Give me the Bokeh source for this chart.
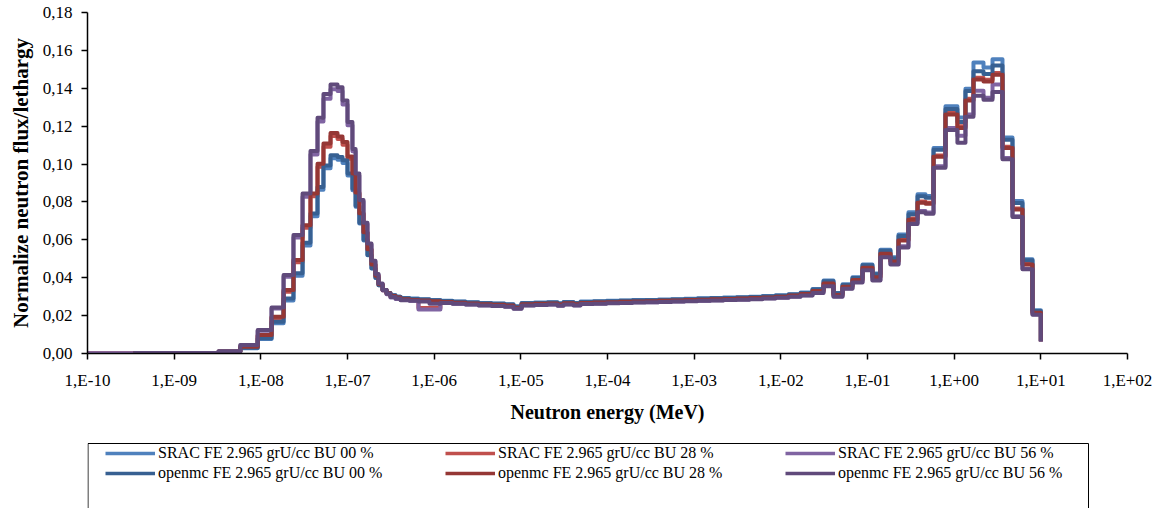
import math
from bokeh.plotting import figure
from bokeh.layouts import column
from bokeh.models import (Range1d, FixedTicker, CustomJSTickFormatter, Legend,
                          LegendItem, BoxAnnotation)
from bokeh.embed import file_html
from bokeh.resources import INLINE

NaN = float("nan")

# group boundaries (MeV)
energy_edges_mev = [
    1.0e-10, 3.4e-10, 3.25e-9, 5.8e-9, 9.2e-9, 1.33e-8, 1.83e-8, 2.38e-8, 3.03e-8, 3.74e-8,
    4.51e-8, 5.28e-8, 6.37e-8, 7.67e-8, 8.76e-8, 1.0e-7, 1.14e-7, 1.24e-7, 1.37e-7, 1.53e-7,
    1.70e-7, 1.89e-7, 2.10e-7, 2.28e-7, 2.54e-7, 2.82e-7, 3.13e-7, 3.58e-7, 4.09e-7,
    5.19e-7, 6.59e-7, 8.83e-7, 1.18e-6, 1.63e-6, 2.30e-6, 3.25e-6, 4.59e-6, 6.48e-6, 8.23e-6,
    1.02e-5, 1.44e-5, 2.03e-5, 2.65e-5, 3.11e-5, 4.05e-5, 4.88e-5, 6.89e-5, 9.74e-5, 1.38e-4,
    1.94e-4, 2.74e-4, 3.88e-4, 5.48e-4, 7.74e-4, 1.09e-3, 1.54e-3, 2.18e-3, 3.08e-3, 4.35e-3,
    6.14e-3, 8.68e-3, 1.23e-2, 1.69e-2, 2.32e-2, 3.11e-2,
    4.05e-2, 5.15e-2, 6.71e-2, 8.76e-2, 1.14e-1, 1.41e-1, 1.84e-1, 2.28e-1, 2.97e-1, 3.78e-1,
    4.67e-1, 5.78e-1, 7.94e-1, 1.09, 1.35, 1.67, 2.18, 2.77, 3.61, 4.71, 6.14, 8.01, 10.0,
]

srac_bu00 = [
    0.0001, 0.0002, 0.0008, 0.0028, 0.0076, 0.0160, 0.0280, 0.0410, 0.0570, 0.0724,
    0.0864, 0.0978, 0.1030, 0.1023, 0.1006, 0.0940, 0.0862, 0.0774, 0.0686, 0.0597,
    0.0518, 0.0449, 0.0399, 0.0360, 0.0335, 0.0320, 0.0308, 0.0300,
    0.0293, 0.0290, 0.0287, 0.0283, 0.0279, 0.0275, 0.0271, 0.0267, 0.0264, 0.0260,
    0.0249, 0.0267, 0.0269, 0.0271, 0.0265, 0.0272, 0.0267, 0.0274, 0.0276, 0.0278,
    0.0280, 0.0282, 0.0283, 0.0285, 0.0287, 0.0289, 0.0291, 0.0293, 0.0295, 0.0297,
    0.0300, 0.0303, 0.0307, 0.0313, 0.0322, 0.0340,
    0.0385, 0.0320, 0.0365, 0.0402, 0.0470, 0.0422, 0.0548, 0.0508, 0.0628, 0.0745,
    0.0840, 0.0832, 0.1085, 0.1305, 0.1246, 0.1398, 0.1536, 0.1510, 0.1553, 0.1140,
    0.0805, 0.0498, 0.0228,
]
srac_bu28 = [
    0.0001, 0.0002, 0.0009, 0.0034, 0.0093, 0.0188, 0.0326, 0.0482, 0.0664, 0.0830,
    0.0986, 0.1092, 0.1148, 0.1132, 0.1102, 0.1028, 0.0941, 0.0843, 0.0735, 0.0636,
    0.0547, 0.0468, 0.0408, 0.0364, 0.0334, 0.0317, 0.0302, 0.0294,
    0.0287, 0.0284, 0.0240, 0.0240, 0.0273, 0.0269, 0.0265, 0.0261, 0.0258, 0.0254,
    0.0243, 0.0261, 0.0263, 0.0265, 0.0259, 0.0266, 0.0261, 0.0268, 0.0270, 0.0272,
    0.0274, 0.0276, 0.0277, 0.0279, 0.0281, 0.0283, 0.0285, 0.0287, 0.0289, 0.0291,
    0.0294, 0.0297, 0.0301, 0.0307, 0.0316, 0.0333,
    0.0372, 0.0311, 0.0356, 0.0391, 0.0456, 0.0406, 0.0530, 0.0490, 0.0602, 0.0712,
    0.0803, 0.0796, 0.1045, 0.1272, 0.1200, 0.1345, 0.1455, 0.1445, 0.1480, 0.1092,
    0.0765, 0.0473, 0.0217,
]
srac_bu56 = [
    0.0001, 0.0002, 0.0011, 0.0043, 0.0120, 0.0238, 0.0405, 0.0612, 0.0828, 0.1050,
    0.1225, 0.1345, 0.1395, 0.1385, 0.1315, 0.1205, 0.1068, 0.0940, 0.0802, 0.0684,
    0.0575, 0.0486, 0.0417, 0.0367, 0.0333, 0.0313, 0.0296, 0.0288,
    0.0282, 0.0279, 0.0232, 0.0232, 0.0267, 0.0263, 0.0259, 0.0255, 0.0252, 0.0248,
    0.0237, 0.0255, 0.0257, 0.0259, 0.0253, 0.0260, 0.0255, 0.0262, 0.0264, 0.0266,
    0.0268, 0.0270, 0.0271, 0.0273, 0.0275, 0.0277, 0.0279, 0.0281, 0.0283, 0.0285,
    0.0288, 0.0291, 0.0295, 0.0301, 0.0308, 0.0323,
    0.0358, 0.0302, 0.0345, 0.0378, 0.0443, 0.0388, 0.0512, 0.0473, 0.0566, 0.0690,
    0.0752, 0.0744, 0.0988, 0.1190, 0.1150, 0.1262, 0.1387, 0.1350, 0.1420, 0.1032,
    0.0724, 0.0448, 0.0207,
]
openmc_bu00 = [
    NaN, 0.0002, 0.0009, 0.0030, 0.0080, 0.0168, 0.0290, 0.0423, 0.0584, 0.0739,
    0.0879, 0.0993, 0.1046, 0.1037, 0.1020, 0.0950, 0.0870, 0.0780, 0.0690, 0.0600,
    0.0520, 0.0450, 0.0400, 0.0360, 0.0335, 0.0320, 0.0308, 0.0300,
    0.0291, 0.0288, 0.0285, 0.0281, 0.0277, 0.0273, 0.0269, 0.0265, 0.0262, 0.0258,
    0.0247, 0.0265, 0.0267, 0.0269, 0.0263, 0.0270, 0.0265, 0.0272, 0.0274, 0.0276,
    0.0278, 0.0280, 0.0281, 0.0283, 0.0285, 0.0287, 0.0289, 0.0291, 0.0293, 0.0295,
    0.0298, 0.0301, 0.0305, 0.0311, 0.0320, 0.0338,
    0.0382, 0.0318, 0.0362, 0.0398, 0.0466, 0.0418, 0.0542, 0.0502, 0.0620, 0.0735,
    0.0830, 0.0822, 0.1075, 0.1290, 0.1222, 0.1385, 0.1490, 0.1475, 0.1520, 0.1128,
    0.0795, 0.0492, 0.0225,
]
openmc_bu28 = [
    NaN, 0.0002, 0.0010, 0.0036, 0.0097, 0.0194, 0.0335, 0.0493, 0.0677, 0.0844,
    0.1002, 0.1108, 0.1164, 0.1146, 0.1116, 0.1040, 0.0950, 0.0850, 0.0740, 0.0640,
    0.0550, 0.0470, 0.0410, 0.0365, 0.0335, 0.0318, 0.0303, 0.0295,
    0.0286, 0.0283, 0.0280, 0.0276, 0.0272, 0.0268, 0.0264, 0.0260, 0.0257, 0.0253,
    0.0242, 0.0260, 0.0262, 0.0264, 0.0258, 0.0265, 0.0260, 0.0267, 0.0269, 0.0271,
    0.0273, 0.0275, 0.0276, 0.0278, 0.0280, 0.0282, 0.0284, 0.0286, 0.0288, 0.0290,
    0.0293, 0.0296, 0.0300, 0.0306, 0.0314, 0.0330,
    0.0369, 0.0309, 0.0353, 0.0388, 0.0452, 0.0402, 0.0526, 0.0486, 0.0596, 0.0706,
    0.0796, 0.0790, 0.1038, 0.1262, 0.1190, 0.1335, 0.1446, 0.1436, 0.1472, 0.1085,
    0.0760, 0.0470, 0.0215,
]
openmc_bu56 = [
    NaN, 0.0002, 0.0012, 0.0045, 0.0124, 0.0243, 0.0414, 0.0625, 0.0844, 0.1069,
    0.1245, 0.1370, 0.1420, 0.1406, 0.1336, 0.1222, 0.1080, 0.0950, 0.0810, 0.0690,
    0.0580, 0.0490, 0.0420, 0.0370, 0.0335, 0.0315, 0.0298, 0.0290,
    0.0281, 0.0278, 0.0275, 0.0262, 0.0266, 0.0262, 0.0258, 0.0254, 0.0251, 0.0247,
    0.0236, 0.0254, 0.0256, 0.0258, 0.0252, 0.0259, 0.0254, 0.0261, 0.0263, 0.0265,
    0.0267, 0.0269, 0.0270, 0.0272, 0.0274, 0.0276, 0.0278, 0.0280, 0.0282, 0.0284,
    0.0287, 0.0290, 0.0294, 0.0300, 0.0306, 0.0320,
    0.0355, 0.0300, 0.0342, 0.0375, 0.0440, 0.0385, 0.0508, 0.0470, 0.0560, 0.0683,
    0.0745, 0.0738, 0.0980, 0.1180, 0.1112, 0.1250, 0.1360, 0.1340, 0.1380, 0.1025,
    0.0720, 0.0445, 0.0205,
]
# last plotted value at 10 MeV for each series
end_flux = [0.0065, 0.0065, 0.0064, 0.0066, 0.0065, 0.0064]

series_names = [
    "SRAC FE 2.965 grU/cc BU 00 %",
    "SRAC FE 2.965 grU/cc BU 28 %",
    "SRAC FE 2.965 grU/cc BU 56 %",
    "openmc FE 2.965 grU/cc BU 00 %",
    "openmc FE 2.965 grU/cc BU 28 %",
    "openmc FE 2.965 grU/cc BU 56 %",
]
series_values = [srac_bu00, srac_bu28, srac_bu56, openmc_bu00, openmc_bu28, openmc_bu56]
series_colors = ["#4F81BD", "#C0504D", "#8064A2", "#376092", "#953735", "#604A7B"]

x_tick_values = [1e-10, 1e-9, 1e-8, 1e-7, 1e-6, 1e-5, 1e-4, 1e-3, 1e-2, 1e-1, 1e0, 1e1, 1e2]
x_tick_labels = ["1,E-10", "1,E-09", "1,E-08", "1,E-07", "1,E-06", "1,E-05", "1,E-04",
                 "1,E-03", "1,E-02", "1,E-01", "1,E+00", "1,E+01", "1,E+02"]
y_tick_values = [0.0, 0.02, 0.04, 0.06, 0.08, 0.10, 0.12, 0.14, 0.16, 0.18]
y_tick_labels = ["0,00", "0,02", "0,04", "0,06", "0,08", "0,10", "0,12", "0,14", "0,16", "0,18"]

n_groups = len(energy_edges_mev) - 1
for s in series_values:
    assert len(s) == n_groups, (len(s), n_groups)


def step_path(edges, vals, end):
    xs, ys = [], []
    for i, v in enumerate(vals):
        if math.isnan(v):
            continue
        xs += [edges[i], edges[i + 1]]
        ys += [v, v]
    xs.append(edges[-1])
    ys.append(end)
    return xs, ys


FONT = "Liberation Serif"
W, H_MAIN, H_LEG = 1165, 430, 78
LEFT, RIGHT = 87, 38

p = figure(width=W, height=H_MAIN, x_axis_type="log",
           x_range=Range1d(1e-10, 1e2), y_range=Range1d(0, 0.18),
           output_backend="svg", toolbar_location=None,
           min_border_left=LEFT, min_border_right=RIGHT, min_border_top=12, min_border_bottom=77)
p.outline_line_color = None
p.grid.visible = False
p.background_fill_color = "white"
p.border_fill_color = "white"

for name, vals, col, end in zip(series_names, series_values, series_colors, end_flux):
    xs, ys = step_path(energy_edges_mev, vals, end)
    p.line(xs, ys, line_color=col, line_width=4, line_join="round")

# axes
xa = p.xaxis[0]
xa.ticker = FixedTicker(ticks=x_tick_values, minor_ticks=[])
xa.formatter = CustomJSTickFormatter(args=dict(tvals=x_tick_values, labels=x_tick_labels), code="""
    let best = 0, bd = 1e9;
    for (let i = 0; i < tvals.length; i++) {
        const d = Math.abs(Math.log10(tick) - Math.log10(tvals[i]));
        if (d < bd) { bd = d; best = i; }
    }
    return labels[best];
""")
ya = p.yaxis[0]
ya.ticker = FixedTicker(ticks=y_tick_values, minor_ticks=[])
ya.formatter = CustomJSTickFormatter(args=dict(tvals=y_tick_values, labels=y_tick_labels), code="""
    let best = 0, bd = 1e9;
    for (let i = 0; i < tvals.length; i++) {
        const d = Math.abs(tick - tvals[i]);
        if (d < bd) { bd = d; best = i; }
    }
    return labels[best];
""")

for ax in (xa, ya):
    ax.axis_line_color = "black"
    ax.axis_line_width = 1.5
    ax.major_tick_line_color = "black"
    ax.major_tick_line_width = 1.5
    ax.major_tick_in = 0
    ax.major_tick_out = 6
    ax.minor_tick_line_color = None
    ax.major_label_text_font = FONT
    ax.major_label_text_font_size = "17px"
    ax.major_label_text_color = "black"
    ax.axis_label_text_font = FONT
    ax.axis_label_text_font_style = "bold"
    ax.axis_label_text_color = "black"

xa.axis_label = "Neutron energy (MeV)"
xa.axis_label_text_font_size = "20px"
xa.major_label_standoff = 11
xa.axis_label_standoff = 8
ya.axis_label = "Normalize neutron flux/lethargy"
ya.axis_label_text_font_size = "21px"
ya.major_label_standoff = 9
ya.axis_label_standoff = 7

# legend strip under the chart (frame aligned with the chart frame)
pl = figure(width=W, height=H_LEG, x_range=Range1d(0, 1), y_range=Range1d(0, 1),
            output_backend="svg", toolbar_location=None,
            x_axis_location=None, y_axis_location=None,
            min_border_left=LEFT, min_border_right=RIGHT,
            min_border_top=0, min_border_bottom=0)
pl.outline_line_color = None
pl.grid.visible = False
pl.background_fill_color = "white"
pl.border_fill_color = "white"

# legend proxies, kept outside the visible range
proxies = []
for col in series_colors:
    proxies.append(pl.line(x=[-10, -9], y=[-10, -9], line_color=col, line_width=3.5))

items = [LegendItem(label=n, renderers=[r]) for n, r in zip(series_names, proxies)]
legend = Legend(items=items, location=(18, 25), orientation="horizontal", ncols=3,
                padding=0, spacing=0, margin=0, glyph_width=50, glyph_height=20,
                label_height=20, label_width=287, label_standoff=3,
                border_line_color=None, background_fill_alpha=0,
                label_text_font=FONT, label_text_font_size="16px",
                label_text_color="black")
pl.add_layout(legend, "center")

legend_box = BoxAnnotation(left=0.5, right=1001, top=65, bottom=-20,
                           left_units="screen", right_units="screen",
                           top_units="screen", bottom_units="screen",
                           fill_alpha=0, line_color="black", line_width=1, line_alpha=1)
pl.add_layout(legend_box)

layout = column(p, pl, spacing=0)
open("out.html", "w").write(file_html(layout, INLINE))
